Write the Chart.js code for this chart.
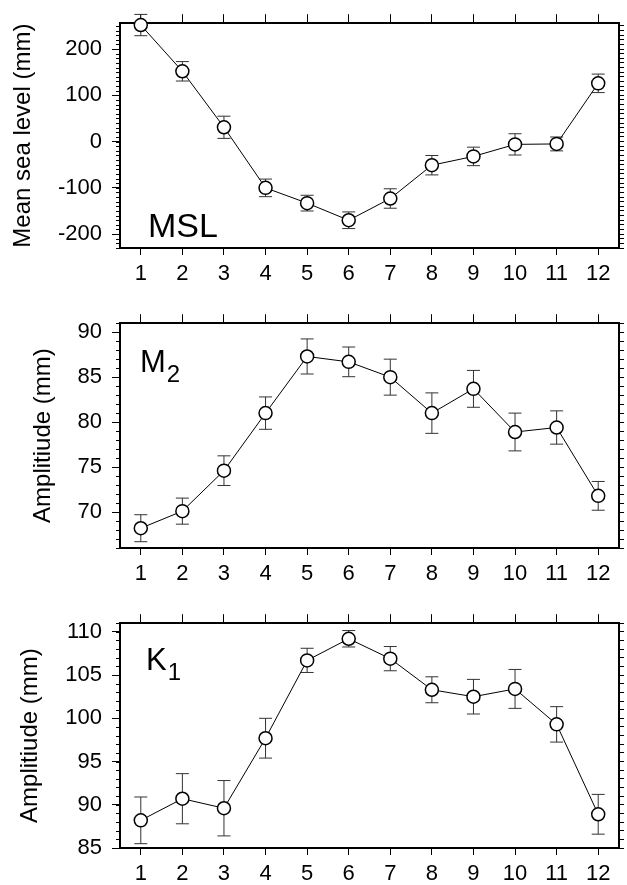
<!DOCTYPE html>
<html>
<head>
<meta charset="utf-8">
<script src="https://cdn.jsdelivr.net/npm/chart.js@4.4.1/dist/chart.umd.min.js"></script>
<style>
  body { margin: 0; background: #fff; }
  .panel { position: relative; width: 627px; }
</style>
</head>
<body>
<div class="panel" style="height:300px"><canvas id="msl"></canvas></div>
<div class="panel" style="height:300px"><canvas id="m2"></canvas></div>
<div class="panel" style="height:285px"><canvas id="k1"></canvas></div>
<script>
// Monthly values
const months = [1, 2, 3, 4, 5, 6, 7, 8, 9, 10, 11, 12];

const mslValues = [252, 152, 31, -100, -133, -170, -123, -51, -32, -6, -5, 126];
const mslErrors = [23, 21, 24, 19, 17, 18, 21, 21, 20, 23, 15, 20];
const mslTicks = [-200, -100, 0, 100, 200];

const m2Values = [68.2, 70.1, 74.6, 81.0, 87.3, 86.7, 85.0, 81.0, 83.7, 78.9, 79.4, 71.8];
const m2Errors = [1.5, 1.45, 1.65, 1.8, 1.95, 1.65, 2.0, 2.25, 2.05, 2.1, 1.85, 1.6];
const m2Ticks = [70, 75, 80, 85, 90];

const k1Values = [88.2, 90.7, 89.6, 97.7, 106.7, 109.2, 106.9, 103.3, 102.5, 103.4, 99.3, 88.9];
const k1Errors = [2.7, 2.9, 3.2, 2.3, 1.4, 0.95, 1.4, 1.5, 2.0, 2.25, 2.05, 2.3];
const k1Ticks = [85, 90, 95, 100, 105, 110];

const FONT = "'Liberation Sans', Arial, Helvetica, sans-serif";

// range of values between min and max at a given step
function stepValues(min, max, step) {
  const out = [];
  for (let v = Math.ceil(min / step) * step; v <= max + 1e-9; v += step) out.push(v);
  return out;
}

// error bars, left minor ticks and the panel name
const panelDecor = {
  id: 'panelDecor',
  beforeDatasetsDraw(chart, args, opts) {
    const { ctx } = chart;
    const xs = chart.scales.x;
    const ys = chart.scales.y;
    ctx.save();
    ctx.strokeStyle = '#333';
    ctx.lineWidth = 1;
    opts.values.forEach((v, i) => {
      const px = xs.getPixelForValue(months[i]);
      const top = ys.getPixelForValue(v + opts.errors[i]);
      const bot = ys.getPixelForValue(v - opts.errors[i]);
      ctx.beginPath();
      ctx.moveTo(px, top); ctx.lineTo(px, bot);
      ctx.moveTo(px - 6.5, top); ctx.lineTo(px + 6.5, top);
      ctx.moveTo(px - 6.5, bot); ctx.lineTo(px + 6.5, bot);
      ctx.stroke();
    });
    ctx.restore();
  },
  afterDraw(chart, args, opts) {
    const { ctx, chartArea } = chart;
    const ys = chart.scales.y;
    ctx.save();
    ctx.strokeStyle = '#000';
    ctx.lineWidth = 1;
    stepValues(ys.min, ys.max, opts.minor).forEach(v => {
      const py = Math.round(ys.getPixelForValue(v)) + 0.5;
      ctx.beginPath();
      ctx.moveTo(chartArea.left - 4, py);
      ctx.lineTo(chartArea.left, py);
      ctx.stroke();
    });
    ctx.fillStyle = '#000';
    ctx.textBaseline = 'alphabetic';
    ctx.font = opts.size + 'px ' + FONT;
    const lx = chartArea.left + opts.labelX;
    const ly = chartArea.top + opts.labelY;
    ctx.fillText(opts.name, lx, ly);
    if (opts.sub) {
      const w = ctx.measureText(opts.name).width;
      ctx.font = '24px ' + FONT;
      ctx.fillText(opts.sub, lx + w + 1, ly + 10);
    }
    ctx.restore();
  }
};

function makePanel(id, cfg) {
  const h = document.getElementById(id).parentNode.clientHeight;
  const points = months.map((m, i) => ({ x: m, y: cfg.values[i] }));
  const tickFont = { family: FONT, size: 22 };
  const frame = { display: true, color: '#000', width: 2 };
  const ticksGrid = { drawOnChartArea: false, color: '#000', lineWidth: 1 };

  return new Chart(document.getElementById(id), {
    type: 'line',
    data: {
      datasets: [{
        data: points,
        borderColor: '#000',
        borderWidth: 1,
        pointRadius: 6.5,
        pointBorderWidth: 1.5,
        pointBackgroundColor: '#fff',
        pointBorderColor: '#000',
        tension: 0,
        clip: false
      }]
    },
    options: {
      responsive: true,
      maintainAspectRatio: false,
      animation: false,
      layout: { padding: 0 },
      plugins: {
        legend: { display: false },
        tooltip: { enabled: false },
        panelDecor: {
          values: cfg.values,
          errors: cfg.errors,
          minor: cfg.minor,
          name: cfg.name,
          sub: cfg.sub,
          size: cfg.nameSize,
          labelX: cfg.labelX,
          labelY: cfg.labelY
        }
      },
      scales: {
        x: {
          type: 'linear',
          position: 'bottom',
          min: 0.5,
          max: 12.5,
          afterBuildTicks: s => { s.ticks = months.map(v => ({ value: v })); },
          afterFit: s => { s.height = h - 248; },
          grid: { ...ticksGrid, tickLength: 7 },
          border: frame,
          ticks: { color: '#000', font: tickFont, padding: 6, maxRotation: 0 }
        },
        xTop: {
          type: 'linear',
          position: 'top',
          min: 0.5,
          max: 12.5,
          afterBuildTicks: s => { s.ticks = months.map(v => ({ value: v })); },
          afterFit: s => { s.height = 23; },
          grid: { ...ticksGrid, tickLength: 9 },
          border: frame,
          ticks: { display: false }
        },
        y: {
          type: 'linear',
          position: 'left',
          min: cfg.min,
          max: cfg.max,
          afterBuildTicks: s => { s.ticks = cfg.ticks.map(v => ({ value: v })); },
          afterFit: s => { s.width = 120; },
          grid: { ...ticksGrid, tickLength: 8 },
          border: frame,
          ticks: { color: '#000', font: tickFont, padding: 10 },
          title: {
            display: true,
            text: cfg.title,
            color: '#000',
            font: { family: FONT, size: 24 },
            padding: { top: cfg.titlePad, bottom: 0 }
          }
        },
        yRight: {
          type: 'linear',
          position: 'right',
          min: cfg.min,
          max: cfg.max,
          afterBuildTicks: s => { s.ticks = stepValues(cfg.min, cfg.max, cfg.minor).map(v => ({ value: v })); },
          afterFit: s => { s.width = 7; },
          grid: { ...ticksGrid, tickLength: 5 },
          border: frame,
          ticks: { display: false }
        }
      }
    },
    plugins: [panelDecor]
  });
}

makePanel('msl', {
  values: mslValues, errors: mslErrors, ticks: mslTicks,
  min: -230, max: 256, minor: 10,
  title: 'Mean sea level (mm)', titlePad: 9,
  name: 'MSL', nameSize: 34, labelX: 28, labelY: 214
});

makePanel('m2', {
  values: m2Values, errors: m2Errors, ticks: m2Ticks,
  min: 66, max: 91, minor: 1,
  title: 'Amplitiude (mm)', titlePad: 29,
  name: 'M', sub: '2', nameSize: 31, labelX: 20, labelY: 49
});

makePanel('k1', {
  values: k1Values, errors: k1Errors, ticks: k1Ticks,
  min: 85, max: 111, minor: 1,
  title: 'Amplitiude (mm)', titlePad: 16,
  name: 'K', sub: '1', nameSize: 31, labelX: 26, labelY: 47
});
</script>
</body>
</html>
